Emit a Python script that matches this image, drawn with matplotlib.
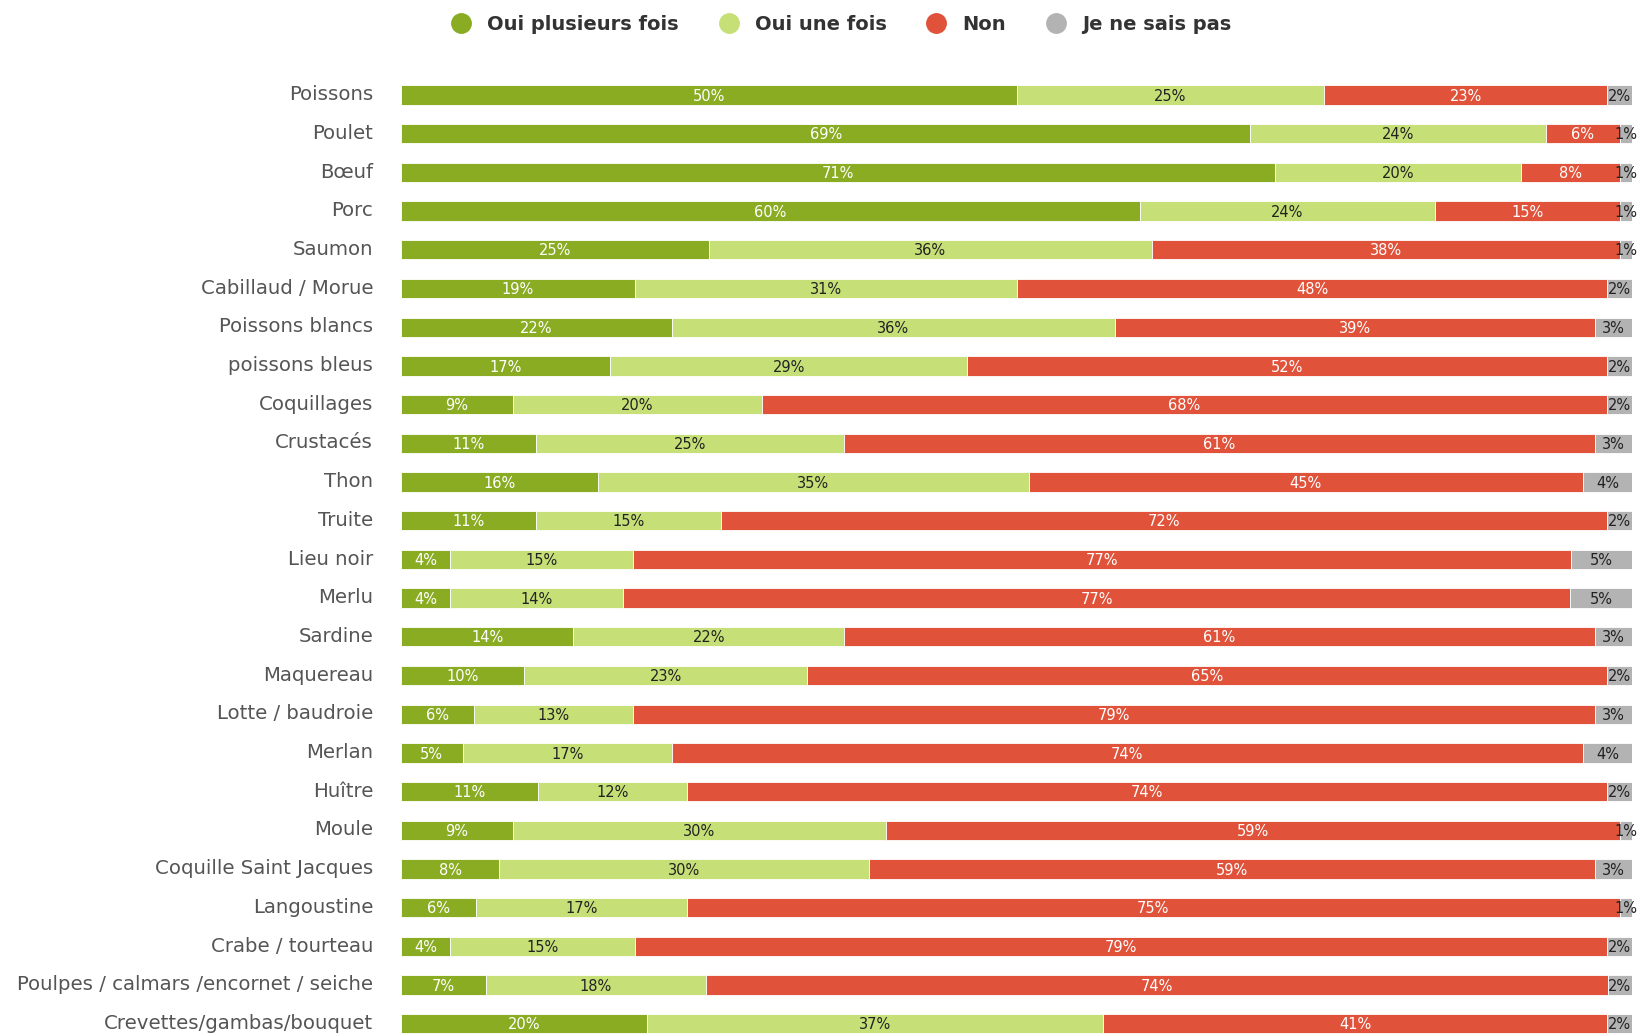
"""Stacked percent bars: consommation de poissons / viandes."""

import matplotlib
matplotlib.use("Agg")
import matplotlib.pyplot as plt
import numpy as np
from matplotlib.lines import Line2D

categories = [
    "Poissons", "Poulet", "Bœuf", "Porc", "Saumon", "Cabillaud / Morue",
    "Poissons blancs", "poissons bleus", "Coquillages", "Crustacés", "Thon",
    "Truite", "Lieu noir", "Merlu", "Sardine", "Maquereau", "Lotte / baudroie",
    "Merlan", "Huître", "Moule", "Coquille Saint Jacques", "Langoustine",
    "Crabe / tourteau", "Poulpes / calmars /encornet / seiche",
    "Crevettes/gambas/bouquet",
]
oui_plusieurs = [50, 69, 71, 60, 25, 19, 22, 17, 9, 11, 16, 11, 4, 4, 14, 10, 6, 5, 11, 9, 8, 6, 4, 7, 20]
oui_une = [25, 24, 20, 24, 36, 31, 36, 29, 20, 25, 35, 15, 15, 14, 22, 23, 13, 17, 12, 30, 30, 17, 15, 18, 37]
non = [23, 6, 8, 15, 38, 48, 39, 52, 68, 61, 45, 72, 77, 77, 61, 65, 79, 74, 74, 59, 59, 75, 79, 74, 41]
ne_sais_pas = [2, 1, 1, 1, 1, 2, 3, 2, 2, 3, 4, 2, 5, 5, 3, 2, 3, 4, 2, 1, 3, 1, 2, 2, 2]

series = [
    ("Oui plusieurs fois", oui_plusieurs, "#8aac23", "white"),
    ("Oui une fois", oui_une, "#c6e077", "#222222"),
    ("Non", non, "#e0523a", "white"),
    ("Je ne sais pas", ne_sais_pas, "#b3b3b3", "#222222"),
]

plt.rcParams["font.family"] = ["DejaVu Sans"]

W, H = 1637, 1035
fig = plt.figure(figsize=(W / 100, H / 100), dpi=100)

row_px = 38.7
top_px = 95 - row_px / 2
left_px, right_px = 401, 1632
ax = fig.add_axes([left_px / W, 0, (right_px - left_px) / W, (H - top_px) / H])

y = np.arange(len(categories))
totals = np.array(oui_plusieurs) + np.array(oui_une) + np.array(non) + np.array(ne_sais_pas)
left = np.zeros(len(categories))
for name, vals, color, tcolor in series:
    vals = np.array(vals, dtype=float)
    widths = vals / totals * 100
    ax.barh(y, widths, left=left, height=0.5, color=color, edgecolor="white", linewidth=0.6)
    for yi, l, w, v in zip(y, left, widths, vals):
        ax.text(l + w / 2, yi + 0.03, f"{int(v)}%", ha="center", va="center",
                fontsize=10.5, color=tcolor, clip_on=False)
    left += widths

ax.set_xlim(0, 100)
ax.set_ylim(-0.5 + (H - top_px) / row_px, -0.5)
ax.set_yticks(y - 0.06, categories)
ax.tick_params(axis="y", length=0, pad=20, labelsize=14.2, labelcolor="#555555")
ax.set_xticks([])
for spine in ax.spines.values():
    spine.set_visible(False)

handles = [Line2D([], [], marker="o", linestyle="none", markersize=14,
                  markerfacecolor=c, markeredgecolor=c) for _, _, c, _ in series]
fig.legend(handles, [s[0] for s in series], loc="center", bbox_to_anchor=(0.511, 1 - 24 / H),
           ncol=4, frameon=False, handletextpad=0.35, columnspacing=1.55,
           prop={"weight": "bold", "size": 14}, labelcolor="#333333")

fig.savefig("out.png", dpi=100)
